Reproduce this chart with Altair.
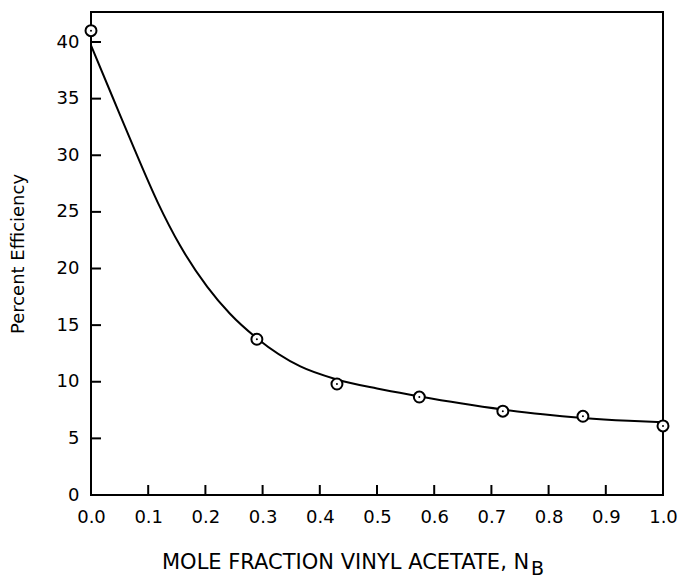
import altair as alt
import pandas as pd

# measured data points (open circles)
pt_x = [0.0, 0.29, 0.43, 0.574, 0.72, 0.86, 1.0]
pt_y = [41.0, 13.75, 9.8, 8.65, 7.4, 6.95, 6.1]

# smooth fitted curve
curve_x = [0.0, 0.038, 0.077, 0.117, 0.156, 0.203, 0.243, 0.291, 0.366, 0.43, 0.50, 0.57, 0.646, 0.72, 0.79, 0.86, 0.94, 1.0]
curve_y = [39.7, 35.1, 30.4, 25.8, 22.0, 18.4, 16.0, 13.8, 11.35, 10.2, 9.4, 8.75, 8.1, 7.55, 7.12, 6.8, 6.55, 6.42]

y_ticks = [5, 10, 15, 20, 25, 30, 35, 40]
x_ticks = [0.1, 0.2, 0.3, 0.4, 0.5, 0.6, 0.7, 0.8, 0.9]

x_title = "MOLE FRACTION VINYL ACETATE, N"
x_title_sub = "B"
y_title = "Percent Efficiency"

W, H = 572, 483
FONT = "DejaVu Sans"

pts = pd.DataFrame({"x": pt_x, "y": pt_y})
crv = pd.DataFrame({"x": curve_x, "y": curve_y})
yt = pd.DataFrame({"v": y_ticks})
xt = pd.DataFrame({"v": x_ticks})

xscale = alt.Scale(domain=[0, 1], nice=False, zero=False)
yscale = alt.Scale(domain=[0, 42.65], nice=False, zero=False)

xaxis = alt.Axis(
    values=[0, 0.1, 0.2, 0.3, 0.4, 0.5, 0.6, 0.7, 0.8, 0.9, 1.0],
    format=".1f", ticks=False, tickSize=0, domain=False, grid=False,
    labelFlush=False, labelOverlap=False,
    labelFont=FONT, labelFontSize=18, labelColor="black", labelPadding=13,
    title=None,
)
yaxis = alt.Axis(
    values=[0, 5, 10, 15, 20, 25, 30, 35, 40],
    format="d", ticks=False, tickSize=0, domain=False, grid=False,
    labelFlush=False, labelOverlap=False,
    labelFont=FONT, labelFontSize=18, labelColor="black", labelPadding=12,
    title=y_title, titleFont=FONT, titleFontSize=18, titleFontWeight="normal",
    titleColor="black", titleAngle=270, titleX=-73, titleY=H / 2,
    titleAlign="center", titleBaseline="middle",
)

line = alt.Chart(crv).mark_line(color="black", strokeWidth=2, interpolate="monotone").encode(
    x=alt.X("x:Q", scale=xscale, axis=xaxis),
    y=alt.Y("y:Q", scale=yscale, axis=yaxis),
)

circles = alt.Chart(pts).mark_point(
    shape="circle", size=120, filled=True, fill="white", stroke="black", strokeWidth=2, opacity=1
).encode(
    x=alt.X("x:Q", scale=xscale),
    y=alt.Y("y:Q", scale=yscale),
)

dots = alt.Chart(pts).mark_point(shape="circle", size=4, filled=True, color="black", opacity=1).encode(
    x=alt.X("x:Q", scale=xscale),
    y=alt.Y("y:Q", scale=yscale),
)

yticks = alt.Chart(yt).mark_rule(color="black", strokeWidth=2).encode(
    y=alt.Y("v:Q", scale=yscale),
    x=alt.value(0),
    x2=alt.value(10),
)

xticks = alt.Chart(xt).mark_rule(color="black", strokeWidth=2).encode(
    x=alt.X("v:Q", scale=xscale),
    y=alt.value(H),
    y2=alt.value(H - 10),
)

title_main = alt.Chart(pd.DataFrame({"t": [x_title]})).mark_text(
    font=FONT, fontSize=21, align="left", baseline="alphabetic", color="black"
).encode(text="t:N", x=alt.value(71), y=alt.value(557))

title_sub = alt.Chart(pd.DataFrame({"t": [x_title_sub]})).mark_text(
    font=FONT, fontSize=19, align="left", baseline="alphabetic", color="black"
).encode(text="t:N", x=alt.value(440), y=alt.value(563))

chart = alt.layer(yticks, xticks, line, circles, dots, title_main, title_sub).properties(
    width=W, height=H,
    autosize=alt.AutoSizeParams(type="none"),
    padding={"left": 91, "top": 12, "right": 17, "bottom": 83},
    background="white",
).configure_view(stroke="black", strokeWidth=2)

chart.save("out.html", embed_options={"renderer": "svg", "actions": False})
